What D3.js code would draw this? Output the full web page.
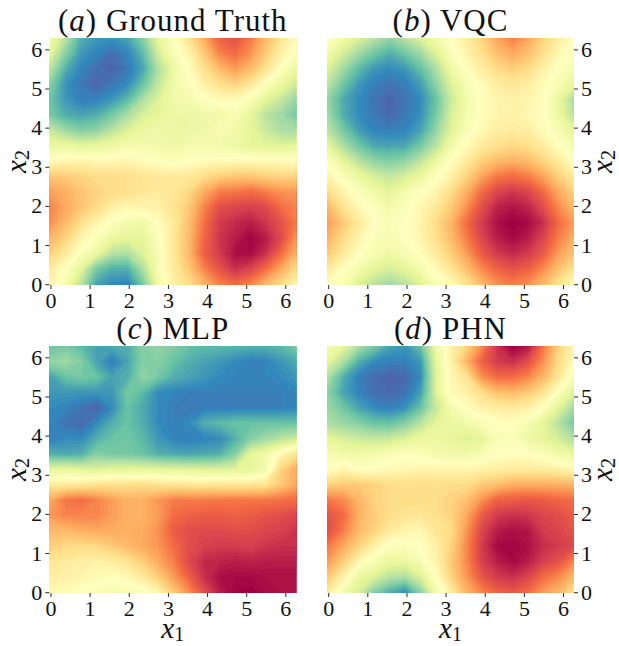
<!DOCTYPE html>
<html>
<head>
<meta charset="utf-8">
<script src="https://cdn.jsdelivr.net/npm/d3@7"></script>
<style>
body { margin: 0; background: #fff; }
text { font-family: "Liberation Serif", serif; fill: #111; }
</style>
</head>
<body>
<div id="chart"></div>
<script>
// colour position on Spectral (0 = dark red, 50 = pale yellow, 100 = purple)
// rows go from x2 = 2pi at the top to x2 = 0, columns from x1 = 0 to 2pi, step pi/8
var groundTruth = [
  [56,68,84,88,89,86,76,60,51,42,30,18,14,22,33,42,49],
  [60,76,88,91,95,91,82,64,53,47,36,24,20,26,36,46,52],
  [68,84,91,95,97,93,86,70,58,50,41,33,28,33,42,51,58],
  [76,89,93,97,93,90,80,67,56,52,46,41,38,43,52,58,65],
  [80,88,92,91,88,82,70,62,56,55,51,49,49,53,60,66,74],
  [78,84,86,84,78,70,63,60,57,58,57,56,54,59,68,72,78],
  [66,72,76,74,68,62,58,57,58,58,57,53,56,60,65,70,71],
  [58,58,60,59,57,55,55,56,57,55,55,56,57,60,61,61,60],
  [49,47,47,48,48,47,49,51,52,51,49,49,49,48,49,49,50],
  [35,36,38,40,40,41,42,43,44,43,40,37,35,35,37,38,38],
  [28,31,35,38,40,41,43,44,43,39,30,23,22,20,23,26,27],
  [24,30,35,40,45,48,47,46,42,36,24,14,12,11,13,20,24],
  [26,33,41,47,52,55,56,50,44,34,21,10,7,5,9,15,23],
  [32,38,47,52,58,60,60,52,43,33,19,9,5,1,5,13,27],
  [38,44,52,58,68,70,62,54,43,33,18,10,3,2,8,20,32],
  [44,51,60,78,84,84,70,53,44,36,24,15,8,12,20,30,40],
  [47,55,68,86,90,92,78,56,46,40,32,24,20,24,33,40,47]
];
var vqc = [
  [51,56,62,68,74,68,62,56,50,45,38,29,23,29,38,45,50],
  [56,64,72,79,84,79,72,62,53,47,41,34,30,34,41,48,52],
  [62,72,82,88,90,88,81,70,57,50,45,40,37,40,46,51,55],
  [68,79,88,92,94,92,87,75,62,54,49,45,43,45,49,54,60],
  [74,85,90,94,97,94,90,80,65,56,50,47,46,47,50,58,71],
  [72,84,90,93,96,93,89,78,63,55,50,47,46,48,50,57,68],
  [68,78,87,91,92,91,86,74,61,53,48,45,44,45,49,54,60],
  [60,70,79,85,86,85,78,68,56,49,44,41,39,41,45,50,55],
  [52,60,68,74,76,74,67,58,50,44,37,33,31,33,38,44,50],
  [47,53,58,63,66,63,58,52,46,38,29,22,20,23,29,37,44],
  [40,47,52,56,60,55,51,47,40,31,20,12,9,12,20,30,38],
  [33,42,48,52,56,52,48,43,36,26,14,6,4,6,14,25,33],
  [28,36,44,50,53,51,47,40,32,20,10,3,0,2,8,20,28],
  [32,40,47,52,54,51,47,41,33,23,12,5,2,5,12,23,31],
  [36,44,50,54,57,54,50,44,37,28,17,10,7,10,17,28,35],
  [44,50,55,60,63,60,55,49,42,34,25,18,15,18,25,34,42],
  [50,53,62,68,72,68,62,53,49,42,33,26,23,26,33,42,49]
];
var mlp = [
  [80,78,82,86,85,84,76,74,77,80,82,82,83,84,84,82,78],
  [74,72,76,86,92,86,76,76,80,84,86,88,90,92,91,88,85],
  [86,80,78,80,86,84,74,78,84,86,88,90,91,91,91,90,88],
  [88,88,88,88,88,78,82,90,91,92,92,92,92,92,92,92,91],
  [90,91,94,97,90,80,85,90,92,93,92,92,92,92,92,92,91],
  [91,94,96,90,84,80,84,90,92,90,84,82,80,80,80,80,80],
  [92,90,90,84,80,79,82,88,91,92,91,90,84,76,72,68,65],
  [84,85,84,76,78,78,80,84,85,86,85,84,76,60,56,48,42],
  [60,59,61,62,60,60,60,60,61,61,62,62,61,60,56,38,30],
  [44,44,43,42,41,41,40,42,42,43,43,43,43,43,42,36,30],
  [30,22,20,24,28,31,31,27,23,23,23,22,22,22,22,21,20],
  [27,24,24,24,28,31,31,28,20,18,17,17,18,17,15,14,12],
  [33,33,31,30,30,31,30,26,17,14,13,13,14,14,12,11,9],
  [37,39,40,39,36,33,30,27,20,14,11,10,10,11,9,8,8],
  [43,44,45,46,45,42,37,30,23,13,7,6,5,6,5,5,5],
  [45,46,47,49,50,48,44,37,28,18,8,3,2,2,3,3,3],
  [48,49,51,53,54,54,52,47,36,26,14,5,1,0,2,3,3]
];
var phn = [
  [55,60,70,78,86,88,80,58,46,38,25,8,0,4,22,38,47],
  [60,70,84,90,92,92,88,60,46,32,18,10,8,14,26,40,50],
  [70,84,92,95,97,96,90,62,48,42,26,20,20,24,32,43,54],
  [75,86,91,95,96,94,87,62,48,46,40,34,33,36,42,52,62],
  [73,79,86,90,92,89,80,66,55,50,46,45,44,46,51,60,72],
  [70,73,76,80,80,76,68,61,58,56,53,51,50,54,60,69,78],
  [60,63,65,66,65,62,58,58,60,62,60,53,52,57,60,64,70],
  [54,56,56,55,53,51,53,55,56,56,54,51,50,51,53,56,59],
  [51,47,51,50,49,48,47,47,47,47,46,45,44,44,44,46,48],
  [38,36,36,38,40,40,40,40,40,40,36,34,31,31,31,31,32],
  [22,25,32,38,40,40,40,40,38,34,26,18,17,16,17,19,20],
  [15,20,31,37,40,42,43,41,38,30,17,10,8,9,12,14,17],
  [14,23,33,38,44,47,48,43,40,27,12,5,3,4,10,12,15],
  [22,30,38,46,52,53,50,46,38,25,10,2,1,3,8,10,13],
  [28,37,48,54,58,58,54,47,36,25,11,5,2,5,11,15,24],
  [36,46,58,62,68,70,62,51,38,27,16,10,8,12,20,25,33],
  [44,55,63,76,84,90,75,56,45,32,24,18,16,20,28,32,42]
];
var tickValues = [0, 1, 2, 3, 4, 5, 6];
var panelLetters = ["a", "b", "c", "d"];
var panelNames = ["Ground Truth", "VQC", "MLP", "PHN"];

var W = 619, H = 646;
var step = Math.PI / 8;
var side = 247;

var svg = d3.select("#chart").append("svg").attr("width", W).attr("height", H);
var defs = svg.append("defs");

var color = d3.scaleLinear()
  .domain(d3.range(0, 101, 10))
  .range(d3.schemeSpectral[11]);
var levels = d3.range(0, 101, 1);

var panels = [
  {grid: groundTruth, left: 49.3, top: 38, right: false, bottom: false},
  {grid: vqc, left: 327, top: 38, right: true, bottom: false},
  {grid: mlp, left: 49.3, top: 346, right: false, bottom: true},
  {grid: phn, left: 327, top: 346, right: true, bottom: true}
];

panels.forEach(function(p, n) {
  var x = d3.scaleLinear().domain([-0.03, 6.28]).range([p.left, p.left + side]);
  var y = d3.scaleLinear().domain([-0.02, 6.29]).range([p.top + side, p.top]);
  var g = svg.append("g");

  defs.append("clipPath").attr("id", "clip" + n).append("rect")
    .attr("x", p.left).attr("y", p.top).attr("width", side).attr("height", side);

  // d3.contours puts a sample at +0.5 of its cell, so shift back to data units
  var rows = p.grid.length, cols = p.grid[0].length;
  var project = d3.geoTransform({
    point: function(px, py) {
      this.stream.point(x((px - 0.5) * step), y((rows - 1 - (py - 0.5)) * step));
    }
  });
  var path = d3.geoPath(project);
  var contours = d3.contours().size([cols, rows]).thresholds(levels)(d3.merge(p.grid));

  g.append("g").attr("clip-path", "url(#clip" + n + ")")
    .selectAll("path").data(contours).enter().append("path")
    .attr("d", path)
    .attr("fill", function(d) { return color(d.value); });

  // title
  var title = g.append("text")
    .attr("x", p.left + side / 2)
    .attr("y", p.top - 7)
    .attr("text-anchor", "middle")
    .style("font-size", "31px")
    .style("letter-spacing", "1px");
  title.append("tspan").text("(");
  title.append("tspan").style("font-style", "italic").text(panelLetters[n]);
  title.append("tspan").text(") " + panelNames[n]);

  // axes
  var xAxis = d3.axisBottom(x).tickValues(tickValues).tickSize(4).tickPadding(3).tickFormat(d3.format("d"));
  var yAxis = (p.right ? d3.axisRight(y) : d3.axisLeft(y))
    .tickValues(tickValues).tickSize(4).tickPadding(3).tickFormat(d3.format("d"));

  var gx = g.append("g").attr("transform", "translate(0," + (p.top + side) + ")").call(xAxis);
  var gy = g.append("g").attr("transform", "translate(" + (p.right ? p.left + side : p.left) + ",0)").call(yAxis);
  [gx, gy].forEach(function(a) {
    a.select(".domain").remove();
    a.selectAll("text").style("font-size", "22px").style("font-family", '"Liberation Serif", serif').attr("fill", "#111");
    a.selectAll("line").attr("stroke", "#111").attr("stroke-width", 0.9);
  });

  // axis labels
  var ylab = g.append("text")
    .attr("transform", "translate(" + (p.right ? p.left + side + 38 : p.left - 23) + "," + (p.top + side / 2) + ") rotate(-90)")
    .attr("text-anchor", "middle")
    .style("font-size", "29px");
  ylab.append("tspan").style("font-style", "italic").text("x");
  ylab.append("tspan").attr("dy", 3).style("font-size", "20px").text("2");

  if (p.bottom) {
    var xlab = g.append("text")
      .attr("x", p.left + side / 2)
      .attr("y", p.top + side + 45)
      .attr("text-anchor", "middle")
      .style("font-size", "29px");
    xlab.append("tspan").style("font-style", "italic").text("x");
    xlab.append("tspan").attr("dy", 3).style("font-size", "20px").text("1");
  }
});
</script>
</body>
</html>
